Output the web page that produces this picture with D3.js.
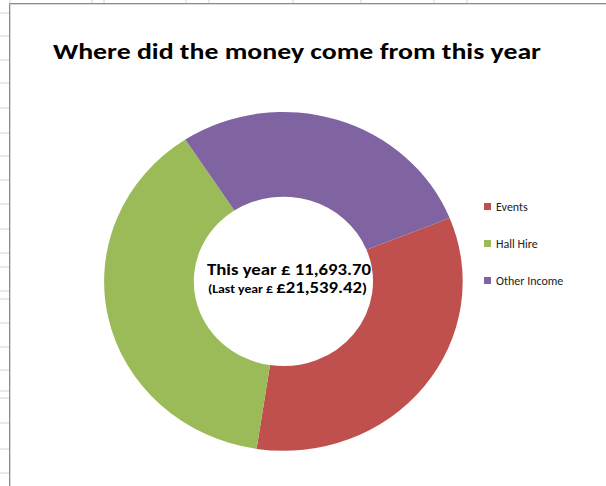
<!DOCTYPE html>
<html>
<head>
<meta charset="utf-8">
<script src="https://cdn.jsdelivr.net/npm/d3@7"></script>
<style>
  body { margin: 0; background: #fff; }
  svg { display: block; font-family: Carlito, "Liberation Sans", Arial, sans-serif; }
</style>
</head>
<body>
<svg id="chart" width="606" height="486"></svg>
<script>
"use strict";

// income categories for this year
var categories = ["Events", "Hall Hire", "Other Income"];
var values = [3917.50, 4489.85, 3286.35];
var colors = ["#C0504D", "#9BBB59", "#8064A2"];

var title = "Where did the money come from this year";
var thisYear = "11,693.70";
var lastYear = "£21,539.42";

// spreadsheet cell lines peeking out behind the chart
var colLines = [10, 92, 104, 186, 209, 293, 361, 434, 467];
var rowLines = [13, 36, 60, 83, 108, 133, 156, 180, 204, 229, 253, 267, 291, 299, 323, 347, 370, 391, 398, 423, 449, 473];

var svg = d3.select("#chart");

// sheet grid stubs
svg.selectAll(".col").data(colLines).enter().append("line")
    .attr("x1", d => d).attr("x2", d => d)
    .attr("y1", 0).attr("y2", 3)
    .attr("stroke", "#d4d4d4").attr("stroke-width", 1);
svg.selectAll(".row").data(rowLines).enter().append("line")
    .attr("x1", 0).attr("x2", 9)
    .attr("y1", d => d).attr("y2", d => d)
    .attr("stroke", "#d4d4d4").attr("stroke-width", 1);

// chart area border (runs off the page right and bottom)
svg.append("path")
    .attr("d", "M9.5,490V3.5H610")
    .attr("fill", "none")
    .attr("stroke", "#8c8c8c")
    .attr("stroke-width", 1);
svg.append("path")
    .attr("d", "M10.5,490V4.5H610")
    .attr("fill", "none")
    .attr("stroke", "#d9d9d9")
    .attr("stroke-width", 1);

// title
svg.append("text")
    .attr("x", 53).attr("y", 58.5)
    .attr("font-size", 22.5).attr("font-weight", "bold")
    .attr("textLength", 488).attr("lengthAdjust", "spacingAndGlyphs")
    .text(title);

// donut
var outerR = 179.3;
var innerR = 89.6;
var startDeg = 68;

var pie = d3.pie()
    .sort(null)
    .startAngle(startDeg * Math.PI / 180)
    .endAngle((startDeg + 360) * Math.PI / 180);

var arc = d3.arc().innerRadius(innerR).outerRadius(outerR);

var g = svg.append("g")
    .attr("transform", "translate(283.4,281.4) scale(1,0.945)");

g.selectAll("path.slice")
    .data(pie(values))
    .enter().append("path")
    .attr("class", "slice")
    .attr("d", arc)
    .attr("fill", (d, i) => colors[i]);

// centre text
svg.append("text")
    .attr("x", 207).attr("y", 274.5)
    .attr("font-size", 16).attr("font-weight", "bold")
    .attr("textLength", 164).attr("lengthAdjust", "spacingAndGlyphs")
    .text("This year £ " + thisYear);

var t2 = svg.append("text")
    .attr("x", 208).attr("y", 292.5)
    .attr("font-weight", "bold")
    .attr("textLength", 159).attr("lengthAdjust", "spacingAndGlyphs");
t2.append("tspan").attr("font-size", 11).text("(Last year £ ");
t2.append("tspan").attr("font-size", 15).text(lastYear);
t2.append("tspan").attr("font-size", 13).text(")");

// legend
var legend = svg.selectAll("g.legend")
    .data(categories)
    .enter().append("g")
    .attr("class", "legend")
    .attr("transform", (d, i) => "translate(484," + (203 + i * 37) + ")");

legend.append("rect")
    .attr("width", 7).attr("height", 7)
    .attr("fill", (d, i) => colors[i]);

legend.append("text")
    .attr("x", 12).attr("y", 7.5)
    .attr("font-size", 12)
    .attr("fill", "#222")
    .text(d => d);
</script>
</body>
</html>
